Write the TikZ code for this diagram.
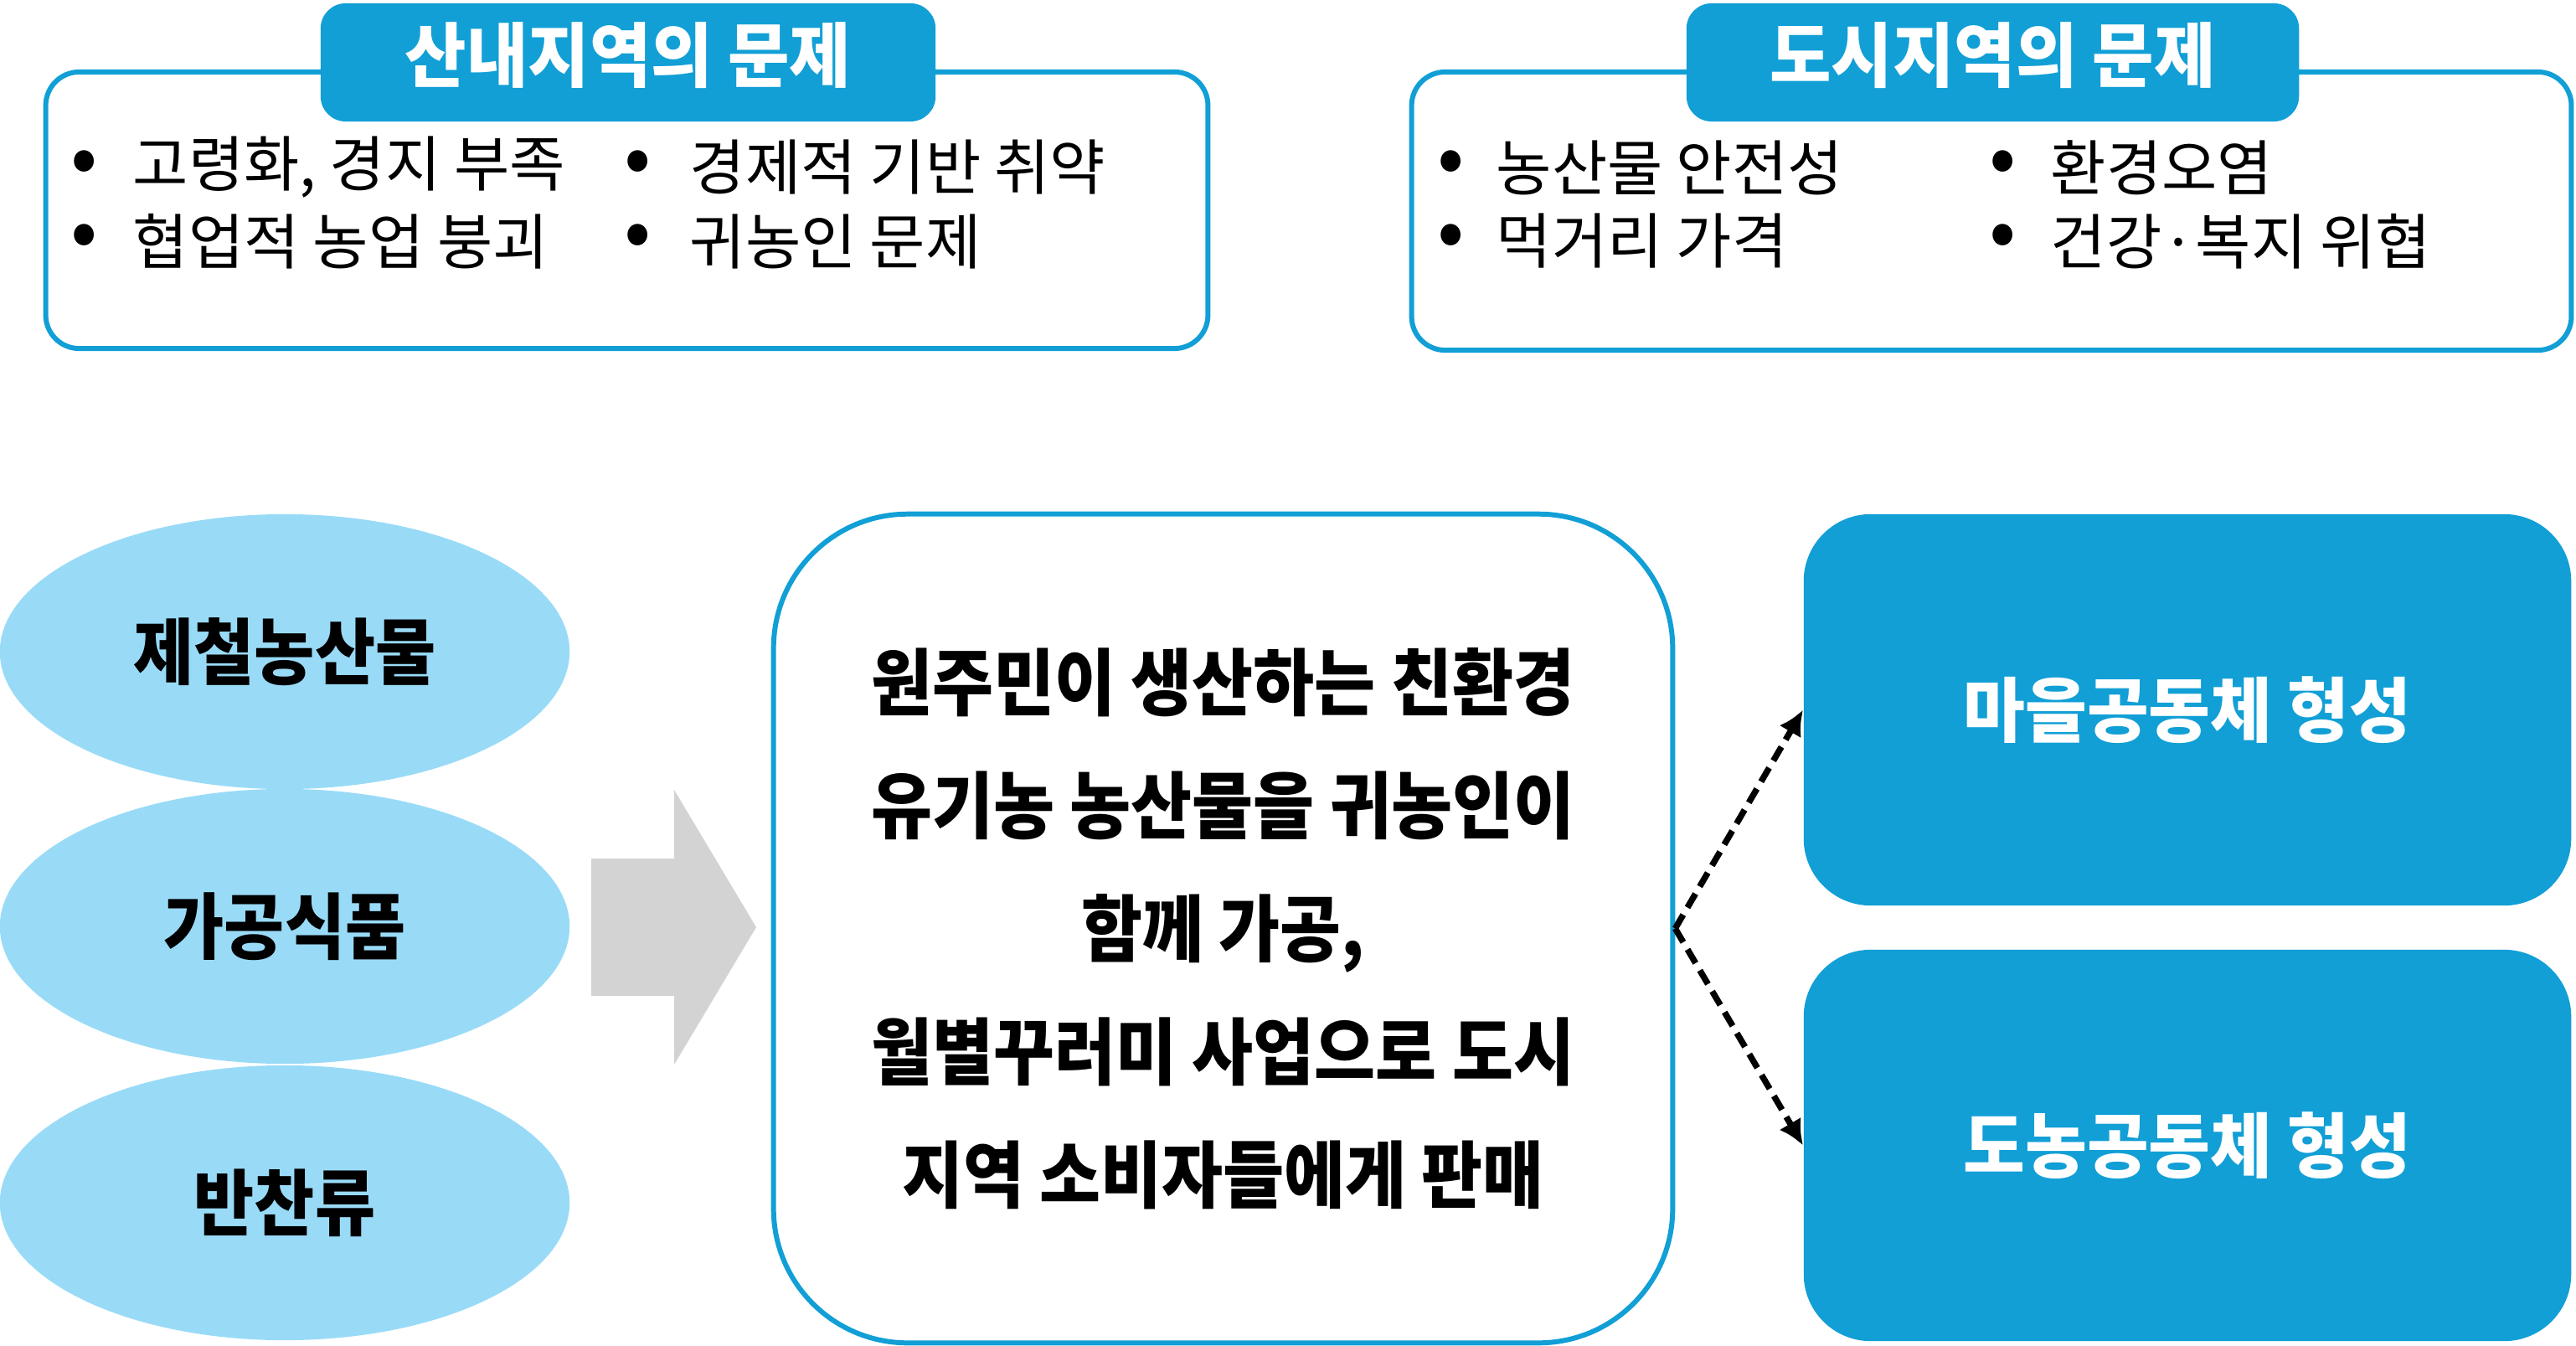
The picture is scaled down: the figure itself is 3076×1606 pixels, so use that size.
\documentclass[tikz,border=0pt]{standalone}
\usepackage{fontspec}
\setmainfont{Noto Sans CJK KR}
\newfontfamily\krB{Noto Sans CJK KR}[FakeStretch=0.95]
\newfontfamily\krC{Noto Sans CJK KR}[FakeStretch=0.91]
\usetikzlibrary{shapes.geometric,arrows.meta}
\definecolor{kblue}{RGB}{17,159,214}
\definecolor{lblue}{RGB}{153,219,247}
\definecolor{agray}{RGB}{211,211,211}
\begin{document}
\begin{tikzpicture}[x=0.01cm,y=-0.01cm,
  probbox/.style={draw=kblue, line width=1.7pt, rounded corners=0.4cm, inner sep=0pt},
  tabbox/.style={fill=kblue, rounded corners=0.3cm, inner sep=0pt},
  tabtext/.style={text=white, inner sep=0pt, font=\krB\fontsize{23.9}{28}\selectfont\bfseries},
  itemtext/.style={anchor=west, inner sep=0pt, font=\fontsize{20.5}{24}\selectfont},
  bul/.style={inner sep=0pt, font=\fontsize{27}{27}\selectfont},
  ell/.style={ellipse, fill=lblue, minimum width=6.8cm, minimum height=3.28cm, inner sep=0pt, font=\krC\fontsize{24.5}{29}\selectfont\bfseries},
  midbox/.style={draw=kblue, line width=1.7pt, rounded corners=1.6cm, minimum width=10.73cm, minimum height=9.89cm, align=center, font=\krC\fontsize{24.8}{41.8}\selectfont\bfseries},
  outbox/.style={fill=kblue, rounded corners=0.8cm, minimum width=9.16cm, minimum height=4.67cm, text=white, inner sep=0pt, font=\krB\fontsize{24}{29}\selectfont\bfseries},
  dasharrow/.style={dash pattern=on 0.19cm off 0.1cm, line width=2.1pt, -{Latex[length=0.3cm,width=0.3cm]}}
]
\useasboundingbox (0,0) rectangle (3076,1606);

% top-left box
\node[probbox, minimum width=13.87cm, minimum height=3.3cm] (lbox) at (748.5,251) {};
\node[tabbox, minimum width=7.34cm, minimum height=1.41cm] (ltab) at (750,74.5) {};
\node[tabtext] (ltitle) at (750,66) {산내지역의 문제};
\node[bul] (lb1) at (101,200) {•};
\node[itemtext] (lt1) at (158,200) {고령화, 경지 부족};
\node[bul] (lb2) at (101,288) {•};
\node[itemtext] (lt2) at (158,288) {협업적 농업 붕괴};
\node[bul] (lb3) at (762,200) {•};
\node[itemtext] (lt3) at (823,200) {경제적 기반 취약};
\node[bul] (lb4) at (762,288) {•};
\node[itemtext] (lt4) at (823,288) {귀농인 문제};

% top-right box
\node[probbox, minimum width=13.84cm, minimum height=3.32cm] (rbox) at (2378,252) {};
\node[tabbox, minimum width=7.31cm, minimum height=1.41cm] (rtab) at (2379.5,74.5) {};
\node[tabtext] (rtitle) at (2379.5,66) {도시지역의 문제};
\node[bul] (rb1) at (1733,200) {•};
\node[itemtext] (rt1) at (1786,200) {농산물 안전성};
\node[bul] (rb2) at (1733,288) {•};
\node[itemtext] (rt2) at (1786,288) {먹거리 가격};
\node[bul] (rb3) at (2392,200) {•};
\node[itemtext] (rt3) at (2448,200) {환경오염};
\node[bul] (rb4) at (2392,288) {•};
\node[itemtext] (rt4) at (2448,288) {건강·복지 위협};

% ellipses
\node[ell] (e1) at (340,778) {\raisebox{0.06cm}{제철농산물}};
\node[ell] (e2) at (340,1106) {\raisebox{0.06cm}{가공식품}};
\node[ell] (e3) at (340,1436) {\raisebox{0.06cm}{반찬류}};

% gray block arrow
\fill[agray] (706,1025) -- (805,1025) -- (805,943) -- (903,1107) -- (805,1271) -- (805,1189) -- (706,1189) -- cycle;

% middle box
\node[midbox] (mid) at (1460.5,1108.5) {원주민이 생산하는 친환경\\유기농 농산물을 귀농인이\\함께 가공,\\월별꾸러미 사업으로 도시\\지역 소비자들에게 판매};

% right boxes
\node[outbox] (o1) at (2612,847.5) {\raisebox{-0.12cm}{마을공동체 형성}};
\node[outbox] (o2) at (2612,1367.5) {\raisebox{-0.12cm}{도농공동체 형성}};

\draw[dasharrow] (mid.east) -- (o1.west);
\draw[dasharrow] (mid.east) -- (o2.west);
\end{tikzpicture}
\end{document}
